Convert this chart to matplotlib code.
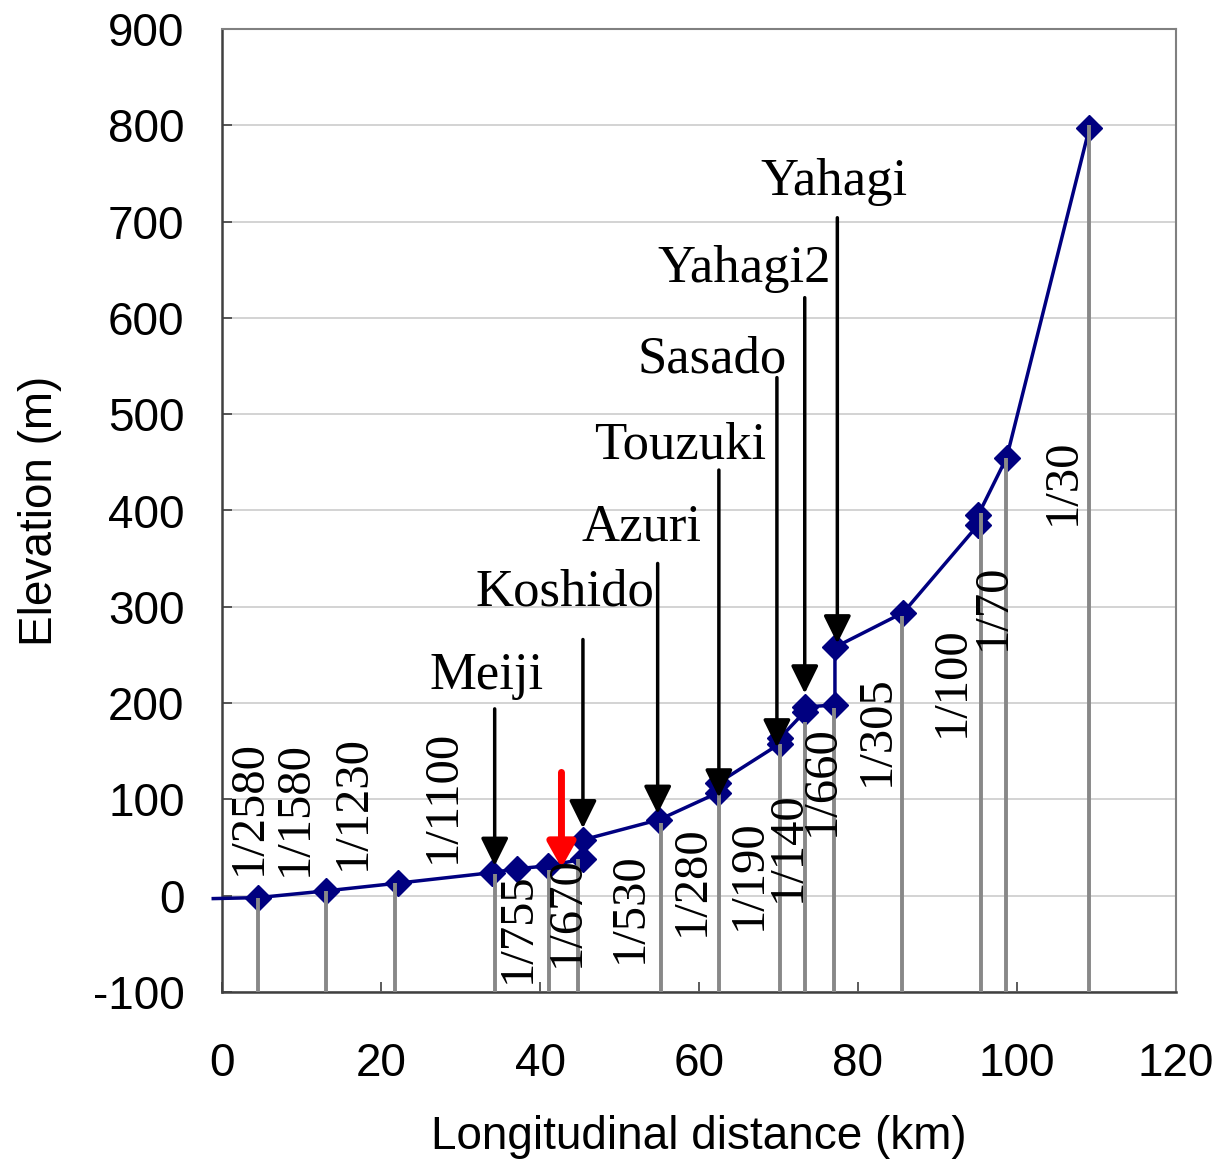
import matplotlib
matplotlib.use('Agg')
import matplotlib.pyplot as plt

plt.rcParams['axes.unicode_minus'] = False

# 縦断形状 (km, m)
dist = [-1.1, 4.5, 13.1, 22.1, 34.0, 37.1, 41.0, 45.4, 45.4, 55.0, 62.4, 62.4,
        70.2, 70.2, 73.3, 73.3, 77.1, 77.1, 85.7, 95.1, 95.1, 98.7, 109.1]
elev = [-3, -2, 5, 13, 24, 28, 31, 38, 58, 79, 107, 117,
        158, 164, 191, 196, 198, 258, 294, 385, 395, 455, 797]

# 勾配変化点
break_x = [4.5, 13.1, 21.8, 34.3, 41.1, 44.8, 55.2, 62.5, 70.2, 73.3, 77.0,
           85.5, 95.5, 98.6, 109.1]
break_top = [-2, 5, 13, 23, 27, 38, 75, 120, 158, 180, 195, 290, 397, 455, 800]

# 勾配ラベル
slope_labels = ['1/2580', '1/1580', '1/1230', '1/1100', '1/755', '1/670', '1/530',
                '1/280', '1/190', '1/140', '1/660', '1/305', '1/100', '1/70', '1/30']
slope_x = [3.4, 9.2, 16.5, 27.8, 37.2, 43.4, 51.3, 59.1, 66.2, 71.2, 75.5,
           82.4, 91.8, 97.0, 105.8]
slope_y = [92, 91, 97, 103, -33, -16, -12, 16, 22, 51, 120, 171, 222, 300, 430]

# ダム・堰
dams = ['Meiji', 'Koshido', 'Azuri', 'Touzuki', 'Sasado', 'Yahagi2', 'Yahagi']
dam_x = [34.3, 45.4, 54.8, 62.5, 69.8, 73.3, 77.4]
dam_tip = [31, 70, 85, 102, 154, 210, 262]
dam_top = [194, 266, 345, 442, 538, 621, 704]
dam_label_x = [33.3, 43.1, 52.8, 57.6, 61.7, 65.7, 77.0]
dam_label_y = [215, 301, 369, 454, 543, 637, 728]

red_x, red_tip, red_top = 42.7, 29, 128

sans = 'Liberation Sans'
sans_size = 33
serif = 'Liberation Serif'

fig = plt.figure(figsize=(12.18, 11.65), dpi=100)
ax = fig.add_axes([222 / 1218, 1 - 992 / 1165, 954 / 1218, 963 / 1165])

ax.set_xlim(0, 120)
ax.set_ylim(-100, 900)
ax.set_xticks(range(0, 121, 20))
ax.set_yticks(range(-100, 901, 100))
ax.yaxis.grid(True, color='#cccccc', lw=1.2)
ax.set_axisbelow(True)

ax.plot(dist, elev, color='#000080', lw=2.5, marker='D', ms=13, mew=1,
        markevery=list(range(1, len(dist))), clip_on=False, zorder=3)

ax.vlines(break_x, -100, break_top, color='#888888', lw=2.8, zorder=4)

for lab, x, y in zip(slope_labels, slope_x, slope_y):
    ax.text(x, y, lab, rotation=90, ha='center', va='center',
            family=serif, fontsize=35, zorder=5)

for name, x, tip, top, lx, ly in zip(dams, dam_x, dam_tip, dam_top, dam_label_x, dam_label_y):
    ax.annotate('', xy=(x, tip), xytext=(x, top),
                arrowprops=dict(arrowstyle='-|>,head_length=0.85,head_width=0.42',
                                color='black', lw=2.5, shrinkA=0, shrinkB=0,
                                mutation_scale=20), zorder=6)
    ax.text(lx, ly, name, ha='center', va='baseline', family=serif, fontsize=38, zorder=6)

ax.annotate('', xy=(red_x, red_tip), xytext=(red_x, red_top),
            arrowprops=dict(arrowstyle='-|>,head_length=0.75,head_width=0.42',
                            color='#ff0000', lw=5, shrinkA=0, shrinkB=0,
                            mutation_scale=20), zorder=7)

for side in ['left', 'bottom']:
    ax.spines[side].set_color('#404040')
    ax.spines[side].set_linewidth(1.8)
for side in ['top', 'right']:
    ax.spines[side].set_color('#808080')
    ax.spines[side].set_linewidth(1.5)

ax.tick_params(direction='in', length=7, width=1.2, color='#404040')
ax.tick_params(axis='x', pad=36)
ax.tick_params(axis='y', pad=27)
for t in ax.get_xticklabels() + ax.get_yticklabels():
    t.set_family(sans)
    t.set_fontsize(sans_size)

ax.set_xlabel('Longitudinal distance (km)', family=sans, fontsize=sans_size, va='center')
ax.xaxis.set_label_coords(0.5, -0.151)
ax.set_ylabel('Elevation (m)', family=sans, fontsize=sans_size, va='center')
ax.yaxis.set_label_coords(-0.191, 0.5)

plt.savefig('out.png', dpi=100)
plt.close()
